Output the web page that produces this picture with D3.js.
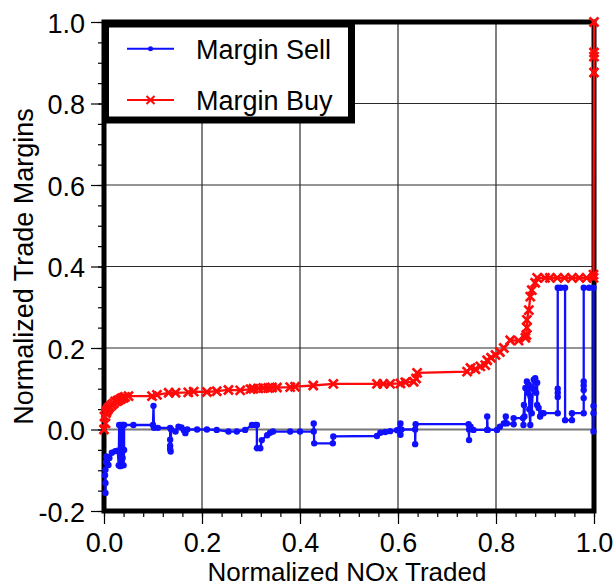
<!DOCTYPE html>
<html>
<head>
<meta charset="utf-8">
<script src="https://cdn.jsdelivr.net/npm/d3@7"></script>
<style>
  html, body { margin: 0; padding: 0; background: #fff; }
  svg { display: block; }
  text { font-family: "Liberation Sans", Arial, sans-serif; fill: #000; }
</style>
</head>
<body>
<svg id="chart" width="615" height="587"></svg>
<script>
// ---- data ----
const xTicks = [0.0, 0.2, 0.4, 0.6, 0.8, 1.0];
const yTicks = [-0.2, 0.0, 0.2, 0.4, 0.6, 0.8, 1.0];
const xGrid = [0.2, 0.4, 0.6, 0.8];
const yGrid = [0.0, 0.2, 0.4, 0.6, 0.8];
const seriesNames = ["Margin Sell", "Margin Buy"];
const xLabel = "Normalized NOx Traded";
const yLabel = "Normalized Trade Margins";

const marginSell = [
[0.003,-0.156],[0.003,-0.131],[0.002,-0.112],[0.003,-0.099],[0.004,-0.08],[0.005,-0.066],[0.009,-0.087],[0.011,-0.07],
[0.016,-0.057],[0.023,-0.053],[0.028,-0.052],[0.03,-0.088],[0.031,0.011],[0.033,-0.09],[0.035,0.011],[0.036,-0.088],
[0.038,-0.07],[0.039,0.011],[0.04,-0.088],[0.041,-0.05],[0.041,0.011],[0.06,0.011],[0.1,0.011],[0.101,0.058],
[0.102,0.004],[0.11,0.004],[0.135,0.004],[0.135,-0.025],[0.135,-0.04],[0.135,-0.048],[0.136,-0.054],[0.137,0.0],
[0.146,-0.005],[0.152,0.007],[0.158,0.005],[0.163,-0.002],[0.166,-0.009],[0.17,0.0],[0.19,0.0],[0.21,0.0],
[0.23,-0.001],[0.254,-0.005],[0.271,-0.005],[0.288,-0.001],[0.302,0.011],[0.309,0.011],[0.312,0.011],[0.312,-0.046],
[0.319,-0.046],[0.322,-0.026],[0.333,-0.014],[0.339,-0.008],[0.345,-0.005],[0.38,-0.005],[0.4,-0.005],[0.428,-0.005],
[0.428,0.015],[0.429,-0.034],[0.467,-0.034],[0.468,-0.017],[0.557,-0.016],[0.564,-0.008],[0.574,-0.006],[0.584,-0.004],
[0.598,-0.002],[0.605,0.015],[0.605,-0.013],[0.607,0.0],[0.635,0.0],[0.635,-0.036],[0.636,0.013],[0.744,0.013],
[0.745,-0.026],[0.745,0.0],[0.748,0.007],[0.754,-0.001],[0.782,-0.001],[0.782,0.032],[0.783,-0.001],[0.802,-0.001],
[0.808,0.007],[0.816,0.015],[0.82,0.032],[0.822,0.015],[0.836,0.013],[0.836,0.028],[0.855,0.028],[0.856,0.011],
[0.857,0.06],[0.858,0.032],[0.86,0.102],[0.863,0.118],[0.865,0.09],[0.867,0.11],[0.868,0.05],[0.87,0.011],
[0.87,0.082],[0.873,0.04],[0.875,0.1],[0.877,0.122],[0.88,0.126],[0.882,0.09],[0.884,0.115],[0.884,0.06],
[0.887,0.053],[0.89,0.032],[0.893,0.04],[0.897,0.04],[0.926,0.04],[0.926,0.08],[0.926,0.09],[0.926,0.1],
[0.926,0.348],[0.932,0.348],[0.941,0.348],[0.941,0.023],[0.955,0.023],[0.955,0.04],[0.979,0.04],[0.979,0.077],
[0.979,0.097],[0.979,0.108],[0.979,0.118],[0.979,0.348],[0.99,0.348],[0.999,0.348],[0.999,0.058],[0.999,0.04],
[0.999,-0.005]
];

const marginBuy = [
[0.0,0.0],[0.003,0.015],[0.001,0.032],[0.004,0.04],[0.005,0.044],[0.007,0.048],[0.009,0.052],[0.012,0.056],
[0.016,0.06],[0.02,0.064],[0.023,0.069],[0.027,0.07],[0.03,0.072],[0.034,0.075],[0.037,0.077],[0.04,0.078],
[0.043,0.08],[0.05,0.082],[0.098,0.082],[0.108,0.085],[0.132,0.09],[0.146,0.09],[0.172,0.091],[0.183,0.093],
[0.21,0.092],[0.23,0.094],[0.254,0.097],[0.278,0.096],[0.299,0.099],[0.305,0.1],[0.315,0.101],[0.325,0.102],
[0.335,0.102],[0.343,0.103],[0.353,0.103],[0.38,0.104],[0.39,0.105],[0.427,0.108],[0.468,0.112],[0.557,0.112],
[0.57,0.112],[0.584,0.112],[0.605,0.113],[0.615,0.116],[0.632,0.117],[0.637,0.125],[0.639,0.139],[0.741,0.142],
[0.748,0.151],[0.758,0.148],[0.768,0.155],[0.778,0.158],[0.782,0.17],[0.79,0.176],[0.799,0.183],[0.808,0.19],
[0.816,0.2],[0.829,0.219],[0.846,0.218],[0.86,0.225],[0.862,0.232],[0.863,0.25],[0.863,0.269],[0.867,0.293],
[0.87,0.326],[0.873,0.342],[0.88,0.36],[0.884,0.372],[0.9,0.372],[0.91,0.372],[0.925,0.372],[0.94,0.372],
[0.955,0.372],[0.97,0.372],[0.985,0.372],[0.999,0.372],[0.999,0.38],[1.0,0.876],[1.0,0.915],[1.0,0.925],
[1.0,1.0]
];

// ---- layout ----
const svg = d3.select("#chart");
const x = d3.scaleLinear().domain([0, 1]).range([104, 594]);
const y = d3.scaleLinear().domain([-0.2, 1.0]).range([511, 22]);
const fontSize = 27;
const fmt = d => d.toFixed(1);   // plain hyphen-minus like the reference

// grid
const grid = svg.append("g").attr("stroke", "#2a2a2a").attr("stroke-width", 1.2);
grid.selectAll("line.vx").data(xGrid).enter().append("line")
  .attr("x1", d => x(d)).attr("x2", d => x(d)).attr("y1", y(1)).attr("y2", y(-0.2));
grid.selectAll("line.hy").data(yGrid).enter().append("line")
  .attr("y1", d => y(d)).attr("y2", d => y(d)).attr("x1", x(0)).attr("x2", x(1))
  .attr("stroke", d => d === 0 ? "#777" : "#2a2a2a")
  .attr("stroke-width", d => d === 0 ? 1.8 : 1.2);

// axes (ticks)
const xMinor = d3.range(0, 1.0001, 0.04);
const yMinor = d3.range(-0.2, 1.0001, 0.05);

const xAxisMinor = d3.axisBottom(x).tickValues(xMinor).tickSize(6).tickFormat("").tickSizeOuter(0);
const xAxisMajor = d3.axisBottom(x).tickValues(xTicks).tickSize(13).tickPadding(9)
  .tickFormat(fmt).tickSizeOuter(0);
const yAxisMinor = d3.axisLeft(y).tickValues(yMinor).tickSize(6).tickFormat("").tickSizeOuter(0);
const yAxisMajor = d3.axisLeft(y).tickValues(yTicks).tickSize(13).tickPadding(6)
  .tickFormat(fmt).tickSizeOuter(0);

function styleAxis(g) {
  g.select(".domain").remove();
  g.selectAll(".tick line").attr("stroke", "#000").attr("stroke-width", 1.2);
  g.selectAll(".tick text").attr("font-size", fontSize)
    .attr("font-family", '"Liberation Sans", Arial, sans-serif').attr("fill", "#000");
}
svg.append("g").attr("transform", `translate(0,${y(-0.2)})`).call(xAxisMinor).call(styleAxis);
svg.append("g").attr("transform", `translate(0,${y(-0.2)})`).call(xAxisMajor).call(styleAxis);
svg.append("g").attr("transform", `translate(${x(0)},0)`).call(yAxisMinor).call(styleAxis);
const yg = svg.append("g").attr("transform", `translate(${x(0)},0)`).call(yAxisMajor).call(styleAxis);
yg.selectAll(".tick text").attr("dy", "0.38em");

// frame
svg.append("rect")
  .attr("x", x(0)).attr("y", y(1))
  .attr("width", x(1) - x(0)).attr("height", y(-0.2) - y(1))
  .attr("fill", "none").attr("stroke", "#000").attr("stroke-width", 5);

// axis titles
svg.append("text").attr("x", (x(0) + x(1)) / 2 - 2).attr("y", 581)
  .attr("text-anchor", "middle").attr("font-size", 26).text(xLabel);
svg.append("text")
  .attr("transform", `translate(33,${(y(1) + y(-0.2)) / 2}) rotate(-90)`)
  .attr("text-anchor", "middle").attr("font-size", fontSize).text(yLabel);

// series
const line = d3.line().x(d => x(d[0])).y(d => y(d[1]));
const blue = "#1010ff", red = "#ff0a0a";

svg.append("path").datum(marginSell).attr("d", line)
  .attr("fill", "none").attr("stroke", blue).attr("stroke-width", 2.3);
svg.append("g").selectAll("circle").data(marginSell).enter().append("circle")
  .attr("cx", d => x(d[0])).attr("cy", d => y(d[1])).attr("r", 3.2).attr("fill", blue);

svg.append("path").datum(marginBuy).attr("d", line)
  .attr("fill", "none").attr("stroke", red).attr("stroke-width", 2.3);
const cross = (cx, cy, s) => `M${cx - s},${cy - s}L${cx + s},${cy + s}M${cx - s},${cy + s}L${cx + s},${cy - s}`;
svg.append("g").selectAll("path").data(marginBuy).enter().append("path")
  .attr("d", d => cross(x(d[0]), y(d[1]), 4.5))
  .attr("stroke", red).attr("stroke-width", 2.7).attr("fill", "none");

// legend
const lg = svg.append("g");
lg.append("rect").attr("x", 105.5).attr("y", 24).attr("width", 246).attr("height", 96)
  .attr("fill", "#fff").attr("stroke", "#000").attr("stroke-width", 7);
const legendRows = [
  { name: seriesNames[0], color: blue, mark: "dot", ly: 48.7 },
  { name: seriesNames[1], color: red, mark: "cross", ly: 100 }
];
legendRows.forEach(r => {
  lg.append("line").attr("x1", 127).attr("x2", 174).attr("y1", r.ly).attr("y2", r.ly)
    .attr("stroke", r.color).attr("stroke-width", 2);
  if (r.mark === "dot") {
    lg.append("circle").attr("cx", 150.5).attr("cy", r.ly).attr("r", 2.5).attr("fill", r.color);
  } else {
    lg.append("path").attr("d", cross(150.5, r.ly, 4)).attr("stroke", r.color).attr("stroke-width", 2);
  }
  lg.append("text").attr("x", 196).attr("y", r.ly + 9.8).attr("font-size", fontSize).text(r.name);
});
</script>
</body>
</html>
